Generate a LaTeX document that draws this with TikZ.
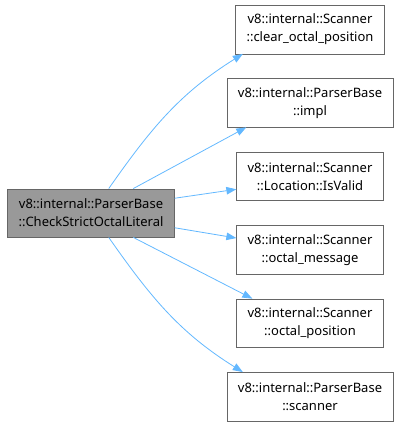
\documentclass[tikz,border=0pt]{standalone}
\usepackage{fontspec}
\setmainfont{Noto Sans}
\usetikzlibrary{positioning,arrows.meta}
\definecolor{edgeblue}{HTML}{63B8FF}
\definecolor{boxline}{HTML}{666666}
\definecolor{focusfill}{HTML}{999999}

\begin{document}
\begin{tikzpicture}[x=1pt, y=1pt, node distance=24.5pt, >={Triangle[length=10pt,width=7.5pt]},
    fn/.style={draw=boxline, fill=white, align=center, minimum height=48.5pt, inner xsep=11pt, font=\fontsize{13}{18}\selectfont},
    focus/.style={fn, fill=focusfill},
    call/.style={->, draw=edgeblue, line width=0.8pt}]
            \useasboundingbox (0,0) rectangle (401,426);
            \node[focus] (check) at (91,213) {v8::internal::ParserBase\\::CheckStrictOctalLiteral};
            \node[fn] (clear) at (310,396.5) {v8::internal::Scanner\\::clear\_octal\_position};
            \node[fn, below=of clear] (impl) {v8::internal::ParserBase\\::impl};
            \node[fn, below=of impl] (valid) {v8::internal::Scanner\\::Location::IsValid};
            \node[fn, below=of valid] (msg) {v8::internal::Scanner\\::octal\_message};
            \node[fn, below=of msg] (pos) {v8::internal::Scanner\\::octal\_position};
            \node[fn, below=of pos] (scan) {v8::internal::ParserBase\\::scanner};

            \draw[call] (check.54) to[out=55, in=212] (clear.200);
            \draw[call] (check.30) -- (impl.201);
            \draw[call] (check.10) -- (valid.190);
            \draw[call] (check.-10) -- (msg.171);
            \draw[call] (check.-30) -- (pos.157);
            \draw[call] (check.-54) to[out=-55, in=148] (scan.160);
        \end{tikzpicture}
\end{document}
